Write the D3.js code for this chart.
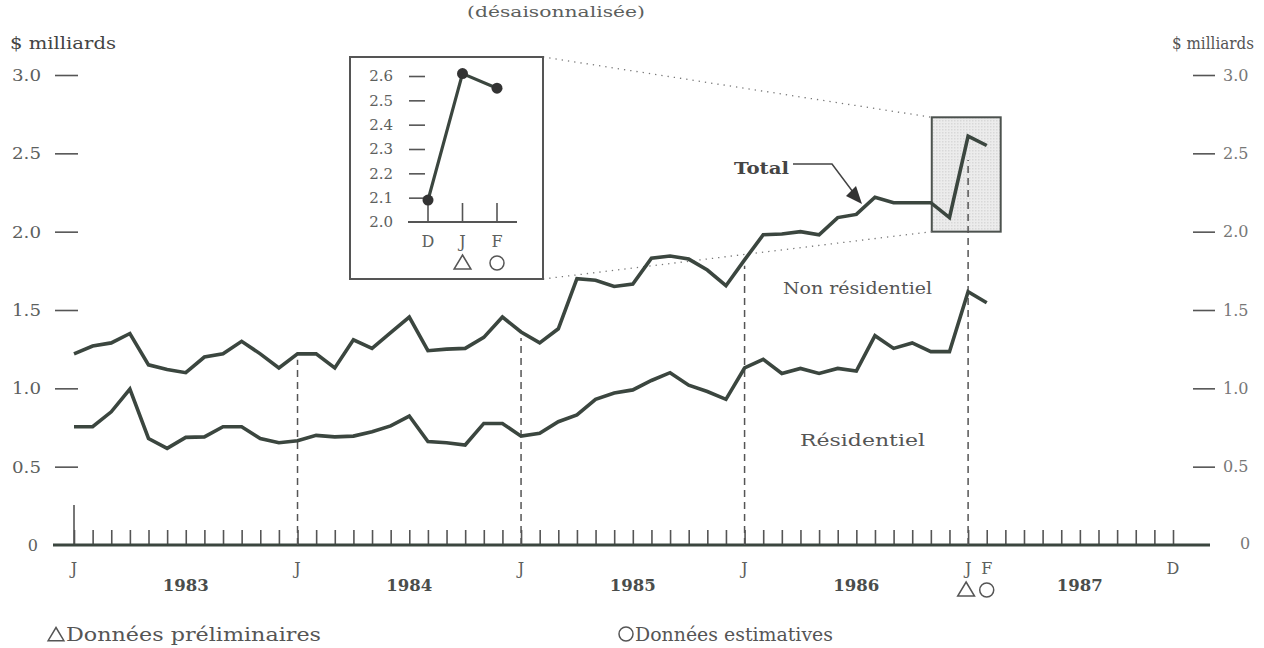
<!DOCTYPE html>
<html lang="fr">
<head>
<meta charset="utf-8">
<script src="https://cdn.jsdelivr.net/npm/d3@7"></script>
<style>
  html, body { margin: 0; padding: 0; background: #fff; }
  svg { display: block; font-family: "DejaVu Serif", "Liberation Serif", serif; }
</style>
</head>
<body>
<svg id="chart" width="1264" height="648"></svg>
<script>
// Monthly series, January 1983 to February 1987, in billions of dollars
const firstYear = 1983;
const years = [1983, 1984, 1985, 1986, 1987];
const total = [
  1.22, 1.27, 1.29, 1.35, 1.15, 1.12, 1.10, 1.20, 1.22, 1.30, 1.22, 1.13,
  1.22, 1.22, 1.13, 1.31, 1.255, 1.355, 1.455, 1.24, 1.25, 1.255, 1.325, 1.455,
  1.36, 1.29, 1.38, 1.70, 1.69, 1.65, 1.665, 1.83, 1.845, 1.825, 1.755, 1.655,
  1.82, 1.98, 1.985, 2.00, 1.98, 2.09, 2.11, 2.22, 2.185, 2.185, 2.185, 2.09,
  2.61, 2.55
];
const residentiel = [
  0.755, 0.755, 0.85, 0.995, 0.68, 0.617, 0.687, 0.69, 0.755, 0.755, 0.68, 0.653,
  0.665, 0.70, 0.69, 0.695, 0.723, 0.76, 0.823, 0.66, 0.653, 0.638, 0.776, 0.776,
  0.695, 0.713, 0.787, 0.83, 0.93, 0.97, 0.99, 1.05, 1.10, 1.02, 0.98, 0.93,
  1.13, 1.185, 1.095, 1.127, 1.095, 1.127, 1.11, 1.336, 1.255, 1.29, 1.234, 1.234,
  1.617, 1.546
];
const yTicks = [0.5, 1.0, 1.5, 2.0, 2.5, 3.0];
const insetTicks = [2.0, 2.1, 2.2, 2.3, 2.4, 2.5, 2.6];
const insetMonths = ["D", "J", "F"];
const insetValues = total.slice(-3);

const ink = "#3b463f";
const textGrey = "#5c605d";
const svg = d3.select("#chart");

const x = d3.scaleLinear().domain([0, 59]).range([74, 1173]);
const y = d3.scaleLinear().domain([0, 3]).range([545, 75]);

// Text helper: size sets the glyph height, width stretches the run
function label(g, px, py, str, size, width, opts = {}) {
  const t = g.append("text").attr("x", px).attr("y", py).attr("font-size", size)
    .attr("fill", opts.fill || textGrey).text(str);
  if (width) t.attr("textLength", width).attr("lengthAdjust", "spacingAndGlyphs");
  if (opts.anchor) t.attr("text-anchor", opts.anchor);
  if (opts.bold) t.attr("font-weight", "bold");
  return t;
}

// Title and unit labels
label(svg, 467, 17, "(désaisonnalisée)", 15, 178);
label(svg, 10, 49, "$ milliards", 17, 106, { fill: "#444" });
label(svg, 1172, 49, "$ milliards", 16, 82, { fill: "#555" });

// Left and right value axes
const fmt = d3.format(".1f");
const leftAxis = svg.append("g").attr("transform", "translate(78,0)")
  .call(d3.axisLeft(y).tickValues(yTicks).tickSize(23).tickPadding(14).tickFormat(fmt));
const rightAxis = svg.append("g").attr("transform", "translate(1193,0)")
  .call(d3.axisRight(y).tickValues(yTicks).tickSize(22).tickPadding(8).tickFormat(fmt));
[leftAxis, rightAxis].forEach(g => {
  g.select(".domain").remove();
  g.selectAll(".tick line").attr("stroke", "#555").attr("stroke-width", 1.6);
  g.selectAll(".tick text").attr("font-family", "DejaVu Serif, serif");
});
leftAxis.selectAll(".tick text").attr("font-size", 17).attr("fill", textGrey)
  .attr("textLength", 29).attr("lengthAdjust", "spacingAndGlyphs");
rightAxis.selectAll(".tick text").attr("font-size", 16).attr("fill", "#777");
label(svg, 38, y(0) + 6, "0", 16, null, { anchor: "end" });
label(svg, 1240, y(0) + 4, "0", 16, null, { fill: "#777" });

// Month ticks along the base line
const monthIdx = d3.range(0, 60);
const bottomAxis = svg.append("g").attr("transform", `translate(0,${y(0)})`)
  .call(d3.axisBottom(x).tickValues(monthIdx).tickSize(-15).tickFormat(""));
bottomAxis.select(".domain").remove();
bottomAxis.selectAll(".tick line").attr("stroke", "#555").attr("stroke-width", 1.6);
svg.append("line").attr("x1", x(0)).attr("x2", x(0)).attr("y1", y(0)).attr("y2", y(0) - 40)
  .attr("stroke", "#555").attr("stroke-width", 1.6);
svg.append("line").attr("x1", 53).attr("x2", 1210).attr("y1", y(0)).attr("y2", y(0))
  .attr("stroke", ink).attr("stroke-width", 3);

// Month and year labels
const monthLabels = [
  { i: 0, t: "J" }, { i: 12, t: "J" }, { i: 24, t: "J" }, { i: 36, t: "J" },
  { i: 48, t: "J" }, { i: 49, t: "F" }, { i: 59, t: "D" }
];
svg.selectAll("text.month").data(monthLabels).join("text").attr("class", "month")
  .attr("x", d => x(d.i)).attr("y", 574).attr("text-anchor", "middle")
  .attr("font-size", 16).attr("fill", textGrey).text(d => d.t);
svg.selectAll("text.year").data(years).join("text").attr("class", "year")
  .attr("x", d => x((d - firstYear) * 12 + 6) - 23).attr("y", 591)
  .attr("textLength", 46).attr("lengthAdjust", "spacingAndGlyphs")
  .attr("font-size", 16).attr("font-weight", "bold")
  .attr("fill", "#4a4d4b").text(d => d);

// Preliminary / estimated markers
function triangle(g, cx, cy, s) {
  g.append("path")
    .attr("d", `M${cx},${cy - s}L${cx + s * 1.05},${cy + s * 0.75}L${cx - s * 1.05},${cy + s * 0.75}Z`)
    .attr("fill", "none").attr("stroke", "#555").attr("stroke-width", 1.5);
}
function circle(g, cx, cy, r) {
  g.append("circle").attr("cx", cx).attr("cy", cy).attr("r", r)
    .attr("fill", "none").attr("stroke", "#555").attr("stroke-width", 1.5);
}
triangle(svg, x(48) - 2, 590, 8);
circle(svg, x(49), 590, 7);

// Footnotes
triangle(svg, 56, 635, 7.5);
label(svg, 66, 641, "Données préliminaires", 18, 255, { fill: "#555" });
circle(svg, 626, 634, 7);
label(svg, 635, 641, "Données estimatives", 18, 198, { fill: "#555" });

// Highlight box around the latest months
const pat = svg.append("defs").append("pattern").attr("id", "grain")
  .attr("width", 3).attr("height", 3).attr("patternUnits", "userSpaceOnUse");
pat.append("rect").attr("width", 3).attr("height", 3).attr("fill", "#ececec");
pat.append("rect").attr("width", 1.5).attr("height", 1.5).attr("fill", "#d8d8d8");
const hb = { x0: x(46.05), x1: x(49.75), y0: y(2.73), y1: y(2.0) };
svg.append("rect").attr("x", hb.x0).attr("y", hb.y0)
  .attr("width", hb.x1 - hb.x0).attr("height", hb.y1 - hb.y0)
  .attr("fill", "url(#grain)").attr("stroke", "#4c524e").attr("stroke-width", 2);

// January guides from the base line up to the total curve
const janIdx = [12, 24, 36, 48];
svg.selectAll("line.jan").data(janIdx).join("line").attr("class", "jan")
  .attr("x1", d => x(d)).attr("x2", d => x(d))
  .attr("y1", y(0)).attr("y2", d => y(total[d]) + (d === 48 ? 24 : 6))
  .attr("stroke", "#555").attr("stroke-width", 1.5).attr("stroke-dasharray", "7,5");

// Inset frame and connectors
const ib = { x0: 350, x1: 543, y0: 57, y1: 279 };
svg.append("line").attr("x1", ib.x1).attr("y1", ib.y0).attr("x2", hb.x0).attr("y2", hb.y0)
  .attr("stroke", "#777").attr("stroke-width", 1.3).attr("stroke-dasharray", "1.3,5");
svg.append("line").attr("x1", ib.x1).attr("y1", ib.y1).attr("x2", hb.x0).attr("y2", hb.y1)
  .attr("stroke", "#777").attr("stroke-width", 1.3).attr("stroke-dasharray", "1.3,5");
svg.append("rect").attr("x", ib.x0).attr("y", ib.y0)
  .attr("width", ib.x1 - ib.x0).attr("height", ib.y1 - ib.y0)
  .attr("fill", "#fff").attr("stroke", "#555").attr("stroke-width", 2);

// Series lines
const line = d3.line().x((d, i) => x(i)).y(d => y(d));
[total, residentiel].forEach(s => {
  svg.append("path").datum(s).attr("d", line).attr("fill", "none")
    .attr("stroke", ink).attr("stroke-width", 3.6)
    .attr("stroke-linejoin", "miter").attr("stroke-linecap", "butt");
});

// Series labels
label(svg, 734, 174, "Total", 17, 55, { fill: "#444", bold: true });
svg.append("path").attr("d", "M793,164L832,164L856,196")
  .attr("fill", "none").attr("stroke", "#444").attr("stroke-width", 1.5);
svg.append("path").attr("d", "M862,204L846,196L856,186Z").attr("fill", "#333");
label(svg, 783, 294, "Non résidentiel", 17, 149, { fill: "#555" });
label(svg, 800, 446, "Résidentiel", 17, 125, { fill: "#555" });

// Inset: last three months of the total
const ix = d3.scalePoint().domain(insetMonths).range([428, 497]);
const iy = d3.scaleLinear().domain([2.0, 2.6]).range([222, 76]);
const inset = svg.append("g");
const insetAxis = inset.append("g").attr("transform", "translate(425,0)")
  .call(d3.axisLeft(iy).tickValues(insetTicks).tickSize(16).tickPadding(16).tickFormat(fmt));
insetAxis.select(".domain").remove();
insetAxis.selectAll(".tick line").attr("stroke", "#555").attr("stroke-width", 1.6);
insetAxis.selectAll(".tick line").filter(d => d === 2.0).remove();
insetAxis.selectAll(".tick text").attr("font-size", 15).attr("fill", textGrey)
  .attr("font-family", "DejaVu Serif, serif");
inset.append("line").attr("x1", 408).attr("x2", 517).attr("y1", iy(2.0)).attr("y2", iy(2.0))
  .attr("stroke", "#555").attr("stroke-width", 1.8);
inset.selectAll("line.itick").data(insetMonths).join("line").attr("class", "itick")
  .attr("x1", d => ix(d)).attr("x2", d => ix(d)).attr("y1", iy(2.0)).attr("y2", iy(2.0) - 19)
  .attr("stroke", "#555").attr("stroke-width", 1.6);
inset.selectAll("text.im").data(insetMonths).join("text").attr("class", "im")
  .attr("x", d => ix(d)).attr("y", 247).attr("text-anchor", "middle")
  .attr("font-size", 16).attr("fill", textGrey).text(d => d);
triangle(inset, ix("J"), 263, 8);
circle(inset, ix("F"), 263, 7);
const iline = d3.line().x((d, i) => ix(insetMonths[i])).y(d => iy(d));
inset.append("path").datum(insetValues).attr("d", iline).attr("fill", "none")
  .attr("stroke", ink).attr("stroke-width", 3.2);
inset.selectAll("circle.ipt").data(insetValues).join("circle").attr("class", "ipt")
  .attr("cx", (d, i) => ix(insetMonths[i])).attr("cy", d => iy(d)).attr("r", 5.5)
  .attr("fill", "#333");
</script>
</body>
</html>
